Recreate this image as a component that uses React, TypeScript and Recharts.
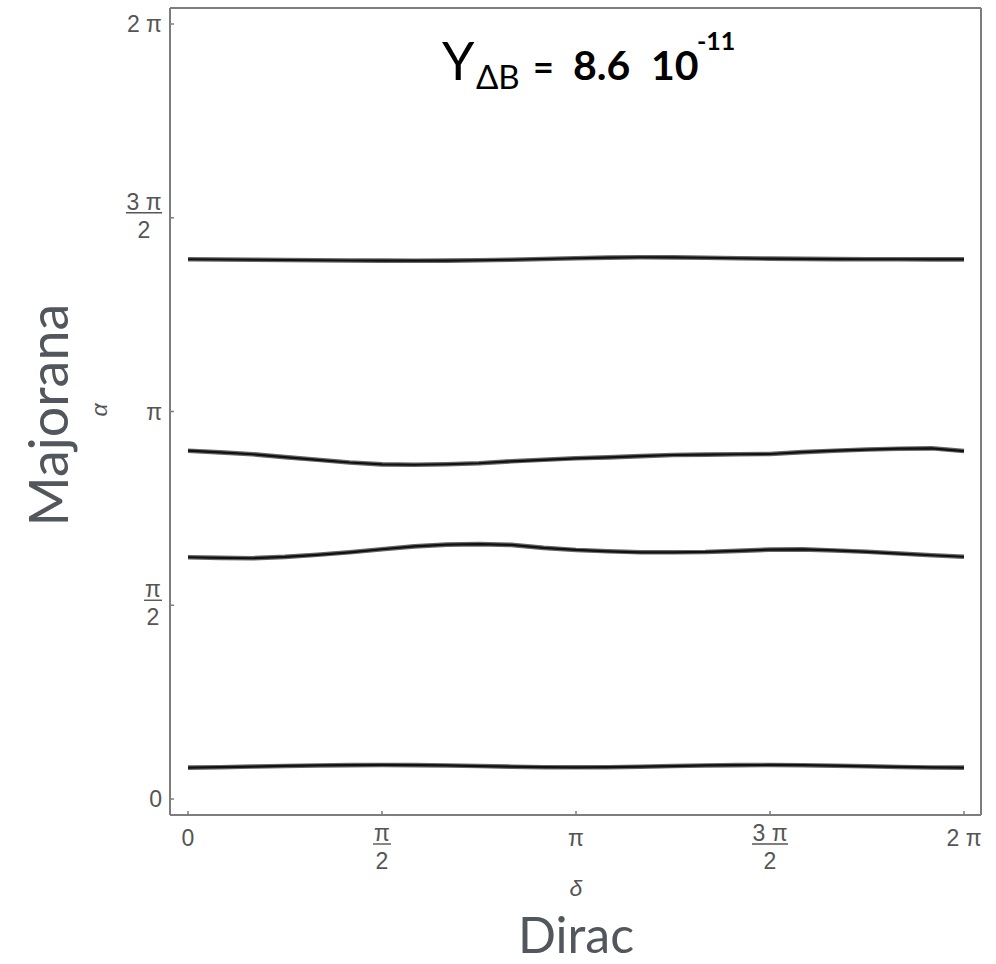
import React from "react";
import { LineChart, Line, XAxis, YAxis } from "recharts";

const PI = Math.PI;

// delta sampled every pi/12 (index n -> n*pi/12)
const deltaTwelfths = [0, 1, 2, 3, 4, 5, 6, 7, 8, 9, 10, 11, 12, 13, 14, 15, 16, 17, 18, 19, 20, 21, 22, 23, 24];

// alpha (rad) of each contour
const contourTop = [4.376, 4.374, 4.372, 4.37, 4.368, 4.366, 4.365, 4.364, 4.365, 4.368, 4.372, 4.378, 4.384, 4.389, 4.392, 4.391, 4.388, 4.384, 4.381, 4.379, 4.377, 4.376, 4.376, 4.375, 4.375];
const contourUpperMid = [2.824, 2.81, 2.795, 2.772, 2.75, 2.728, 2.713, 2.71, 2.714, 2.722, 2.738, 2.75, 2.762, 2.77, 2.78, 2.789, 2.792, 2.795, 2.797, 2.812, 2.824, 2.833, 2.84, 2.843, 2.821];
const contourLowerMid = [1.96, 1.955, 1.952, 1.963, 1.98, 2.0, 2.025, 2.048, 2.062, 2.066, 2.06, 2.036, 2.019, 2.008, 2.0, 2.0, 2.003, 2.012, 2.022, 2.024, 2.015, 2.004, 1.99, 1.976, 1.964];
const contourBottom = [0.254, 0.258, 0.263, 0.268, 0.272, 0.275, 0.276, 0.275, 0.272, 0.267, 0.262, 0.258, 0.257, 0.258, 0.262, 0.267, 0.272, 0.275, 0.276, 0.274, 0.27, 0.265, 0.26, 0.256, 0.254];

const tickMultiples = [0, 0.5, 1, 1.5, 2];
const tickNums = ["0", "π", "π", "3 π", "2 π"];
const tickDens = ["", "2", "", "2", ""];

const tickValues = tickMultiples.map((m) => m * PI);
const data = deltaTwelfths.map((n, i) => ({
  delta: (n * PI) / 12,
  c1: contourTop[i],
  c2: contourUpperMid[i],
  c3: contourLowerMid[i],
  c4: contourBottom[i],
}));

const X_DOMAIN: [number, number] = [-0.1457, 2 * PI + 0.1376];
const Y_DOMAIN: [number, number] = [-0.1297, 2 * PI + 0.1297];

const FRAME = "#7d7d7d";
const TICK_TXT = "#555";
const TICK_FONT = "'Liberation Sans', Arial, sans-serif";
const TICK_SIZE = 23;
const BIG_TXT = "#52575d";

function labelIndex(v: number) {
  return tickValues.findIndex((t) => Math.abs(t - v) < 1e-6);
}

function XTick(props: any) {
  const { x, y, payload } = props;
  const i = labelIndex(payload.value);
  if (i < 0) return null;
  const num = tickNums[i];
  const den = tickDens[i];
  const common = { fill: TICK_TXT, fontSize: TICK_SIZE, fontFamily: TICK_FONT, textAnchor: "middle" as const };
  if (!den) {
    return <text x={x} y={y + 21} {...common}>{num}</text>;
  }
  const hw = num.length === 1 ? 9 : 18;
  const bar = y + 19;
  return (
    <g>
      <text x={x} y={bar - 3} {...common}>{num}</text>
      <line x1={x - hw} x2={x + hw} y1={bar} y2={bar} stroke={TICK_TXT} strokeWidth={1.4} />
      <text x={x} y={bar + 25} {...common}>{den}</text>
    </g>
  );
}

function YTick(props: any) {
  const { x, y, payload } = props;
  const i = labelIndex(payload.value);
  if (i < 0) return null;
  const num = tickNums[i];
  const den = tickDens[i];
  const common = { fill: TICK_TXT, fontSize: TICK_SIZE, fontFamily: TICK_FONT };
  if (!den) {
    return <text x={x} y={y + 8} textAnchor="end" {...common}>{num}</text>;
  }
  const hw = num.length === 1 ? 9 : 18;
  const cx = x - hw;
  const bar = y - 5;
  return (
    <g>
      <text x={cx} y={bar - 3} textAnchor="middle" {...common}>{num}</text>
      <line x1={cx - hw} x2={cx + hw} y1={bar} y2={bar} stroke={TICK_TXT} strokeWidth={1.4} />
      <text x={cx} y={bar + 25} textAnchor="middle" {...common}>{den}</text>
    </g>
  );
}

const curves = ["c1", "c2", "c3", "c4"];

export default function App() {
  return (
    <div style={{ position: "absolute", left: 0, top: 0, width: 996, height: 964, background: "#fff" }}>
      <LineChart width={996} height={964} data={data} margin={{ top: 7, right: 14, bottom: 0, left: 0 }}>
        <XAxis
          xAxisId="b"
          dataKey="delta"
          type="number"
          domain={X_DOMAIN}
          allowDataOverflow
          ticks={tickValues}
          interval={0}
          height={149}
          axisLine={{ stroke: FRAME, strokeWidth: 2 }}
          tickLine={{ stroke: FRAME, strokeWidth: 1.5 }}
          tickSize={-4}
          tickMargin={14}
          tick={(p: any) => <XTick {...p} />}
        />
        <XAxis
          xAxisId="t"
          dataKey="delta"
          orientation="top"
          type="number"
          domain={X_DOMAIN}
          allowDataOverflow
          height={1}
          tick={false}
          tickLine={false}
          axisLine={{ stroke: FRAME, strokeWidth: 2 }}
        />
        <YAxis
          yAxisId="l"
          type="number"
          domain={Y_DOMAIN}
          allowDataOverflow
          ticks={tickValues}
          interval={0}
          width={170}
          axisLine={{ stroke: FRAME, strokeWidth: 2 }}
          tickLine={{ stroke: FRAME, strokeWidth: 1.5 }}
          tickSize={-4}
          tickMargin={12}
          tick={(p: any) => <YTick {...p} />}
        />
        <YAxis
          yAxisId="r"
          orientation="right"
          type="number"
          domain={Y_DOMAIN}
          allowDataOverflow
          width={1}
          tick={false}
          tickLine={false}
          axisLine={{ stroke: FRAME, strokeWidth: 2 }}
        />
        {curves.map((k) => (
          <Line
            key={k + "-halo"}
            xAxisId="t"
            yAxisId="r"
            type="linear"
            dataKey={k}
            stroke="#666"
            strokeWidth={4.6}
            dot={false}
            isAnimationActive={false}
          />
        ))}
        {curves.map((k) => (
          <Line
            key={k}
            xAxisId="b"
            yAxisId="l"
            type="linear"
            dataKey={k}
            stroke="#111"
            strokeWidth={2.2}
            dot={false}
            isAnimationActive={false}
          />
        ))}
      </LineChart>
      <svg
        width={996}
        height={964}
        style={{ position: "absolute", left: 0, top: 0, pointerEvents: "none" }}
      >
        <g fontFamily="Lato, 'Noto Sans', sans-serif" fill="#000">
          <text x={442} y={80} fontSize={52}>Y</text>
          <text x={476} y={89} fontSize={33}>ΔB</text>
          <text x={533} y={80} fontSize={36} fontWeight={700}>=</text>
          <text x={573} y={80} fontSize={41} fontWeight={700}>8.6</text>
          <text x={651} y={80} fontSize={41} fontWeight={700}>10</text>
          <text x={697} y={50} fontSize={25} fontWeight={700}>-11</text>
        </g>
        <text x={576} y={953} textAnchor="middle" fontSize={50} fontFamily="Lato, sans-serif" fill={BIG_TXT}>
          Dirac
        </text>
        <text
          transform="translate(68 415) rotate(-90)"
          textAnchor="middle"
          fontSize={54}
          fontFamily="Lato, sans-serif"
          fill={BIG_TXT}
        >
          Majorana
        </text>
        <text x={576} y={896} textAnchor="middle" fontSize={23} fontStyle="italic" fontFamily={TICK_FONT} fill={TICK_TXT}>
          δ
        </text>
        <text
          transform="translate(107 410) rotate(-90)"
          textAnchor="middle"
          fontSize={23}
          fontStyle="italic"
          fontFamily={TICK_FONT}
          fill={TICK_TXT}
        >
          α
        </text>
      </svg>
    </div>
  );
}
